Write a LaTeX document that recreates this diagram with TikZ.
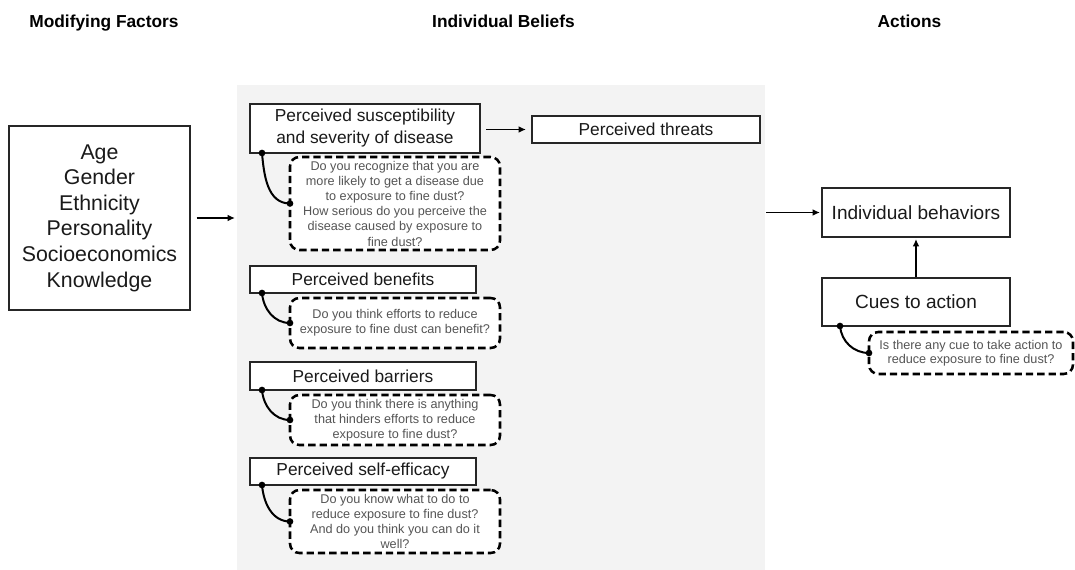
\documentclass[tikz,border=0pt]{standalone}
\usepackage{fontspec}
\setmainfont{Liberation Sans}
\usetikzlibrary{arrows.meta,calc}
\definecolor{bggray}{HTML}{F3F3F3}
\definecolor{qgray}{HTML}{555555}
\definecolor{txt}{HTML}{1A1A1A}
\tikzset{
  box/.style={draw=black!85, line width=0.95pt, fill=white, inner sep=0pt, outer sep=0pt, align=center, text=txt},
  qbox/.style={draw=black, line width=1.9pt, dash pattern=on 5.5pt off 3pt, rounded corners=7pt, fill=white, inner sep=0pt, outer sep=0pt, align=center, text=qgray, font=\fontsize{9.5}{11.4}\selectfont},
  hdr/.style={font=\fontsize{13}{15}\selectfont\bfseries, text=black, anchor=base},
  dot/.style={circle, fill=black, inner sep=0pt, minimum size=5pt},
  link/.style={line width=1.5pt, black},
  arr/.style={line width=1.4pt, -{Latex[length=5.5pt,width=5pt]}},
}
\begin{document}
\begin{tikzpicture}[x=0.75pt,y=-0.75pt]
\useasboundingbox (0,0) rectangle (1075,570);
% background panel
\node[fill=bggray, inner sep=0pt, outer sep=0pt, minimum width=396pt, minimum height=363.75pt] (bg) at (501,327.5) {};
% headers
\node[hdr] (h1) at (104,28) {Modifying Factors};
\node[hdr] (h2) at (503.5,28) {Individual Beliefs};
\node[hdr] (h3) at (909.5,28) {Actions};
% modifying factors
\node[box, minimum width=135.75pt, minimum height=138pt, font=\fontsize{16}{19.2}\selectfont] (mf) at (99.5,218)
  {\rule{0pt}{2pt}Age\\Gender\\Ethnicity\\Personality\\Socioeconomics\\Knowledge};
% beliefs
\node[box, minimum width=172.5pt, minimum height=36.75pt, font=\fontsize{13}{16.5}\selectfont] (sus) at (365,128.5)
  {Perceived susceptibility\\and severity of disease};
\node[box, minimum width=171pt, minimum height=20.25pt, font=\fontsize{13}{15}\selectfont] (thr) at (646,129.5)
  {Perceived threats};
\node[qbox, minimum width=157.5pt, minimum height=69.75pt] (q1) at (395,203.5)
  {Do you recognize that you are\\more likely to get a disease due\\to exposure to fine dust?\\How serious do you perceive the\\disease caused by exposure to\\fine dust?};
\node[box, minimum width=169.5pt, minimum height=20.25pt, font=\fontsize{13}{15}\selectfont] (ben) at (363,279.5)
  {Perceived benefits};
\node[qbox, minimum width=157.5pt, minimum height=37.5pt] (q2) at (395,323)
  {Do you think efforts to reduce\\exposure to fine dust can benefit?};
\node[box, minimum width=169.5pt, minimum height=21pt, font=\fontsize{13}{15}\selectfont] (bar) at (363,376)
  {Perceived barriers};
\node[qbox, minimum width=157.5pt, minimum height=37.5pt] (q3) at (395,420)
  {Do you think there is anything\\that hinders efforts to reduce\\exposure to fine dust?};
\node[box, minimum width=169.5pt, minimum height=20.25pt, font=\fontsize{13}{15}\selectfont] (eff) at (363,471.5)
  {Perceived self-efficacy};
\node[qbox, minimum width=157.5pt, minimum height=47.25pt] (q4) at (395,521.5)
  {Do you know what to do to\\reduce exposure to fine dust?\\And do you think you can do it\\well?};
% actions
\node[box, minimum width=141pt, minimum height=36.75pt, font=\fontsize{14.3}{17}\selectfont] (beh) at (916,212.5)
  {Individual behaviors};
\node[box, minimum width=141pt, minimum height=36pt, font=\fontsize{14.3}{17}\selectfont] (cue) at (916,302)
  {Cues to action};
\node[qbox, minimum width=153pt, minimum height=31.5pt, font=\fontsize{9.5}{10.5}\selectfont] (q5) at (971,353)
  {Is there any cue to take action to\\reduce exposure to fine dust?};
% arrows
\draw[arr, shorten <=5pt, shorten >=1.5pt] (mf.east) -- (mf.east -| bg.west);
\draw[arr, shorten <=4.5pt, shorten >=4.5pt] (sus.east |- thr.west) -- (thr.west);
\draw[arr, shorten <=0.75pt, shorten >=1.5pt] (bg.east |- beh.west) -- (beh.west);
\draw[arr, shorten <=0.75pt, shorten >=1.5pt] (cue.north) -- (beh.south);
% links from beliefs to questions
\foreach \b/\q in {sus/q1, ben/q2, bar/q3, eff/q4}{
  \coordinate (\b-a) at ($(\b.south west)+(12,0)$);
  \draw[link] (\b-a) to[out=-85,in=180] (\q.west);
  \node[dot] at (\b-a) {};
  \node[dot] at (\q.west) {};
}
\coordinate (cue-a) at ($(cue.south west)+(18,0)$);
\draw[link] (cue-a) to[out=-85,in=180] (q5.west);
\node[dot] at (cue-a) {};
\node[dot] at (q5.west) {};
\end{tikzpicture}
\end{document}
